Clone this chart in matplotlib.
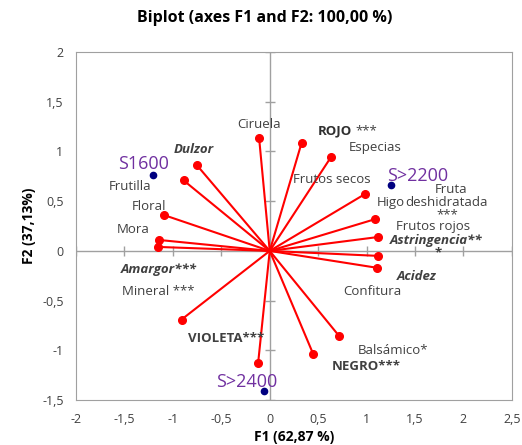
import matplotlib.pyplot as plt
import numpy as np

plt.rcParams['font.family'] = ['Open Sans', 'DejaVu Sans']

# variable vectors (F1, F2)
var_f1 = [-0.11, 0.33, 0.63, 0.98, 1.09, 1.12, 1.12, 1.11, 0.72, 0.45,
          -0.12, -0.91, -1.14, -1.15, -1.09, -0.89, -0.75]
var_f2 = [1.14, 1.09, 0.94, 0.57, 0.32, 0.14, -0.05, -0.17, -0.86, -1.04,
          -1.13, -0.69, 0.11, 0.04, 0.36, 0.71, 0.86]

# observations
obs_names = ["S1600", "S>2200", "S>2400"]
obs_f1 = [-1.20, 1.25, -0.06]
obs_f2 = [0.76, 0.66, -1.41]
obs_lab_x = [-1.30, 1.53, -0.24]
obs_lab_y = [0.87, 0.75, -1.32]

# variable labels: text, x, y, weight, style
labels = [
    ("Ciruela", -0.11, 1.27, "normal", "normal"),
    ("Especias", 1.09, 1.04, "normal", "normal"),
    ("Frutos secos", 0.64, 0.72, "normal", "normal"),
    ("Higo", 1.25, 0.49, "normal", "normal"),
    ("Fruta", 1.87, 0.62, "normal", "normal"),
    ("deshidratada", 1.83, 0.49, "normal", "normal"),
    ("***", 1.83, 0.365, "normal", "normal"),
    ("Frutos rojos", 1.69, 0.245, "normal", "normal"),
    ("Astringencia**", 1.72, 0.105, "bold", "italic"),
    ("*", 1.74, -0.02, "bold", "normal"),
    ("Acidez", 1.52, -0.26, "bold", "italic"),
    ("Confitura", 1.06, -0.41, "normal", "normal"),
    ("Balsámico*", 1.27, -1.00, "normal", "normal"),
    ("NEGRO***", 1.00, -1.16, "bold", "normal"),
    ("VIOLETA***", -0.45, -0.88, "bold", "normal"),
    ("Mineral ***", -1.15, -0.41, "normal", "normal"),
    ("Amargor***", -1.15, -0.19, "bold", "italic"),
    ("Mora", -1.41, 0.22, "normal", "normal"),
    ("Floral", -1.25, 0.45, "normal", "normal"),
    ("Frutilla", -1.44, 0.65, "normal", "normal"),
    ("Dulzor", -0.78, 1.02, "bold", "italic"),
]

fig = plt.figure(figsize=(5.22, 4.45), dpi=100)
ax = fig.add_axes([0.1456, 0.101, 0.835, 0.782])

ax.axhline(0, color="#a0a0a0", lw=1, zorder=1)
ax.axvline(0, color="#a0a0a0", lw=1, zorder=1)
xt = np.arange(-2, 2.51, 0.5)
yt = np.arange(-1.5, 2.01, 0.5)
ax.plot(xt, np.zeros_like(xt), ls="none", marker="|", ms=7, color="#a0a0a0", zorder=1)
ax.plot(np.zeros_like(yt), yt, ls="none", marker="_", ms=7, color="#a0a0a0", zorder=1)

for x, y in zip(var_f1, var_f2):
    ax.plot([0, x], [0, y], color="red", lw=1.5, zorder=2)
ax.plot(var_f1, var_f2, "o", color="red", ms=5.5, zorder=3)

ax.plot(obs_f1, obs_f2, "o", color="#000080", ms=4.5, zorder=3)
for n, x, y in zip(obs_names, obs_lab_x, obs_lab_y):
    ax.text(x, y, n, color="#7030A0", fontsize=13, ha="center", va="center")

for t, x, y, w, s in labels:
    ax.text(x, y, t, color="#404040", fontsize=9.5, ha="center", va="center",
            fontweight=w, fontstyle=s)
ax.text(0.50, 1.21, "ROJO", color="#303030", fontsize=9.5, fontweight="bold",
        ha="left", va="center")
ax.text(0.88, 1.21, "***", color="#404040", fontsize=9.5, ha="left", va="center")

ax.set_xlim(-2, 2.5)
ax.set_ylim(-1.5, 2)
ax.set_xticks(xt)
ax.set_yticks(yt)
fmt = lambda v: ("%g" % v).replace(".", ",")
ax.set_xticklabels([fmt(v) for v in xt])
ax.set_yticklabels([fmt(v) for v in yt])
ax.tick_params(length=0, labelsize=9, colors="#404040", pad=9)
for sp in ax.spines.values():
    sp.set_color("#a0a0a0")

ax.set_xlabel("F1 (62,87 %)", fontsize=10, fontweight="bold", labelpad=3)
ax.set_ylabel("F2 (37,13%)", fontsize=10, fontweight="bold", labelpad=4)
fig.text(0.508, 0.96, "Biplot (axes F1 and F2: 100,00 %)", fontsize=11.5,
         fontweight="bold", ha="center", va="center")

fig.savefig("out.png", dpi=100)
